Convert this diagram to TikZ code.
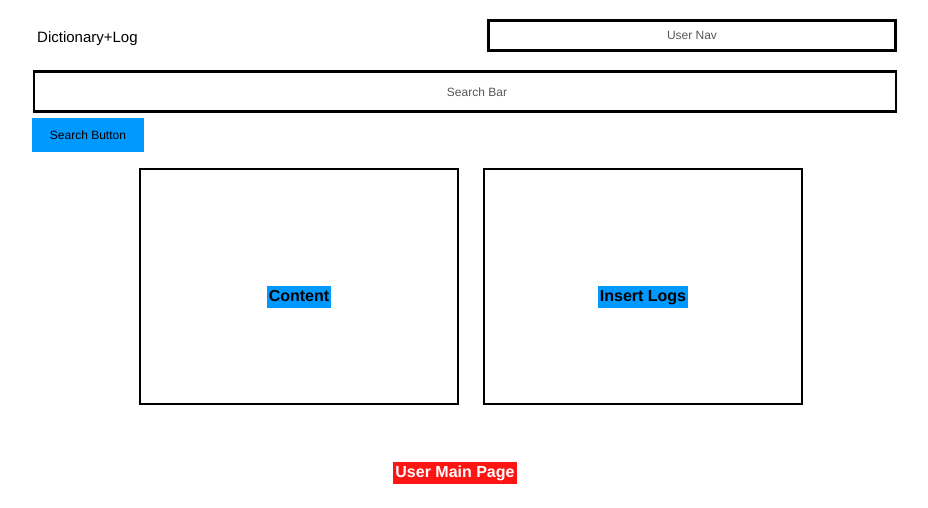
\documentclass[tikz,border=0pt]{standalone}
\usepackage{fontspec}
\setmainfont{Liberation Sans}
\usetikzlibrary{positioning}
\definecolor{btnblue}{HTML}{0099FF}
\definecolor{alertred}{HTML}{FF1414}
\definecolor{hintgray}{HTML}{555555}

\begin{document}
\begin{tikzpicture}[
    x=1pt, y=-1pt,
    every node/.style={font=\fontsize{12}{14}\selectfont, inner sep=0pt},
    frame/.style={draw, line width=2.2pt},
    hint/.style={text=hintgray},
    button/.style={fill=btnblue, minimum width=112pt, minimum height=34pt},
    tag/.style={fill=btnblue, font=\fontsize{16}{18}\selectfont\bfseries, inner xsep=2pt, text height=12pt, text depth=3.5pt, minimum height=22pt},
    pagetitle/.style={fill=alertred, text=white, font=\fontsize{16}{18}\selectfont\bfseries, inner xsep=2pt, text height=12pt, text depth=3.5pt, minimum height=22pt}
]
\useasboundingbox (0,0) rectangle (928,508);
% header
\node[anchor=west, font=\fontsize{15}{17}\selectfont, text height=11pt, text depth=3pt] (title) at (37,39) {Dictionary+Log};
\node[frame, hint, minimum width=407pt, minimum height=30pt] (usernav) at (692,35.5) {User Nav};
% search
\node[frame, hint, minimum width=862pt, minimum height=40pt] (searchbar) at (465,91.5) {};
\node[hint] (searchtext) at (477,92) {Search Bar};
\node[button] (searchbtn) at (88,135) {Search Button};
% panels
\node[frame, minimum width=318pt, minimum height=235pt] (content) at (299,286.5) {};
\node[frame, minimum width=318pt, minimum height=235pt] (logs) at (643,286.5) {};
\node[tag] (contenttag) at (299,297) {Content};
\node[tag] (logstag) at (643,297) {Insert Logs};
% footer
\node[pagetitle] (mainpage) at (455,473) {User Main Page};
\end{tikzpicture}
\end{document}
